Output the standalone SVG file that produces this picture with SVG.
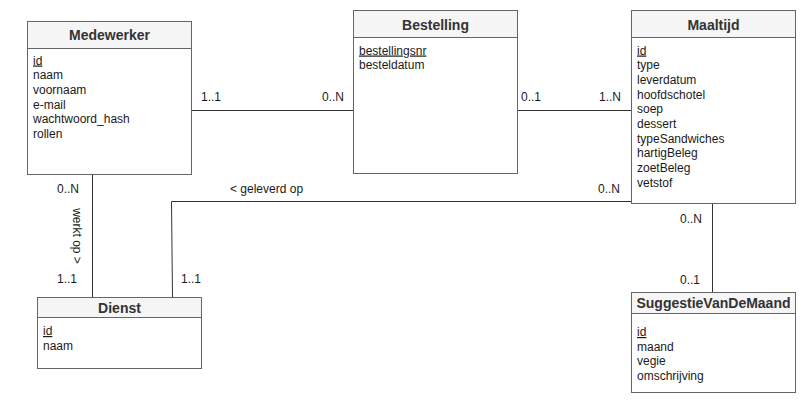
<svg xmlns="http://www.w3.org/2000/svg" width="807" height="405" viewBox="0 0 807 405">
<style>
.box{fill:#ffffff;stroke:#666666;stroke-width:1}
.hdr{fill:#f5f5f5;stroke:#666666;stroke-width:1}
.title{font-family:"Liberation Sans",Arial,sans-serif;font-size:14px;font-weight:bold;fill:#333333;text-anchor:middle}
.attr{font-family:"Liberation Sans",Arial,sans-serif;font-size:12px;fill:#1a1a1a}
.pk{text-decoration:underline}
.lbl{font-family:"Liberation Sans",Arial,sans-serif;font-size:12px;fill:#1a1a1a}
.conn{fill:none;stroke:#333333;stroke-width:1}
</style>
<rect width="807" height="405" fill="#ffffff"/>
<g id="connectors">
<path class="conn" d="M191.5,110.5 H353.5"/>
<path class="conn" d="M517.5,110.5 H631.5"/>
<path class="conn" d="M92.5,174.5 V297.5"/>
<path class="conn" d="M631.5,201.5 H171.5 L172.5,297.5"/>
<path class="conn" d="M712.5,203.5 V292.5"/>
<text class="lbl" x="201" y="101">1..1</text>
<text class="lbl" x="322" y="101">0..N</text>
<text class="lbl" x="521" y="101">0..1</text>
<text class="lbl" x="599" y="101">1..N</text>
<text class="lbl" x="57" y="193">0..N</text>
<text class="lbl" x="57" y="283">1..1</text>
<text class="lbl" transform="translate(77,236) rotate(90)" text-anchor="middle" dominant-baseline="central">werkt op &gt;</text>
<text class="lbl" x="230" y="193">&lt; geleverd op</text>
<text class="lbl" x="598" y="193">0..N</text>
<text class="lbl" x="181" y="283">1..1</text>
<text class="lbl" x="680" y="223">0..N</text>
<text class="lbl" x="680" y="284">0..1</text>
</g>
<g id="medewerker">
<rect class="box" x="27.5" y="21.5" width="164" height="153"/>
<rect class="hdr" x="27.5" y="21.5" width="164" height="27"/>
<text class="title" x="109.5" y="40">Medewerker</text>
<text class="attr pk" x="33" y="64.5">id</text>
<text class="attr" x="33" y="79">naam</text>
<text class="attr" x="33" y="94">voornaam</text>
<text class="attr" x="33" y="108.5">e-mail</text>
<text class="attr" x="33" y="123">wachtwoord_hash</text>
<text class="attr" x="33" y="138">rollen</text>
</g>
<g id="bestelling">
<rect class="box" x="353.5" y="10.5" width="164" height="163"/>
<rect class="hdr" x="353.5" y="10.5" width="164" height="27"/>
<text class="title" x="435.5" y="29.5">Bestelling</text>
<text class="attr pk" x="359" y="54.5">bestellingsnr</text>
<text class="attr" x="359" y="69">besteldatum</text>
</g>
<g id="maaltijd">
<rect class="box" x="631.5" y="10.5" width="164" height="193"/>
<rect class="hdr" x="631.5" y="10.5" width="164" height="27"/>
<text class="title" x="713.5" y="29.5">Maaltijd</text>
<text class="attr pk" x="637" y="54.5">id</text>
<text class="attr" x="637" y="69">type</text>
<text class="attr" x="637" y="84">leverdatum</text>
<text class="attr" x="637" y="98.5">hoofdschotel</text>
<text class="attr" x="637" y="113">soep</text>
<text class="attr" x="637" y="128">dessert</text>
<text class="attr" x="637" y="142.5">typeSandwiches</text>
<text class="attr" x="637" y="157">hartigBeleg</text>
<text class="attr" x="637" y="172">zoetBeleg</text>
<text class="attr" x="637" y="186.5">vetstof</text>
</g>
<g id="dienst">
<rect class="box" x="37.5" y="297.5" width="164" height="71"/>
<rect class="hdr" x="37.5" y="297.5" width="164" height="20"/>
<text class="title" x="119.5" y="312.5">Dienst</text>
<text class="attr pk" x="43" y="335">id</text>
<text class="attr" x="43" y="349.5">naam</text>
</g>
<g id="suggestie">
<rect class="box" x="631.5" y="292.5" width="164" height="100"/>
<rect class="hdr" x="631.5" y="292.5" width="164" height="21"/>
<text class="title" x="713.5" y="308">SuggestieVanDeMaand</text>
<text class="attr pk" x="637" y="336">id</text>
<text class="attr" x="637" y="350.5">maand</text>
<text class="attr" x="637" y="365">vegie</text>
<text class="attr" x="637" y="380">omschrijving</text>
</g>
</svg>
